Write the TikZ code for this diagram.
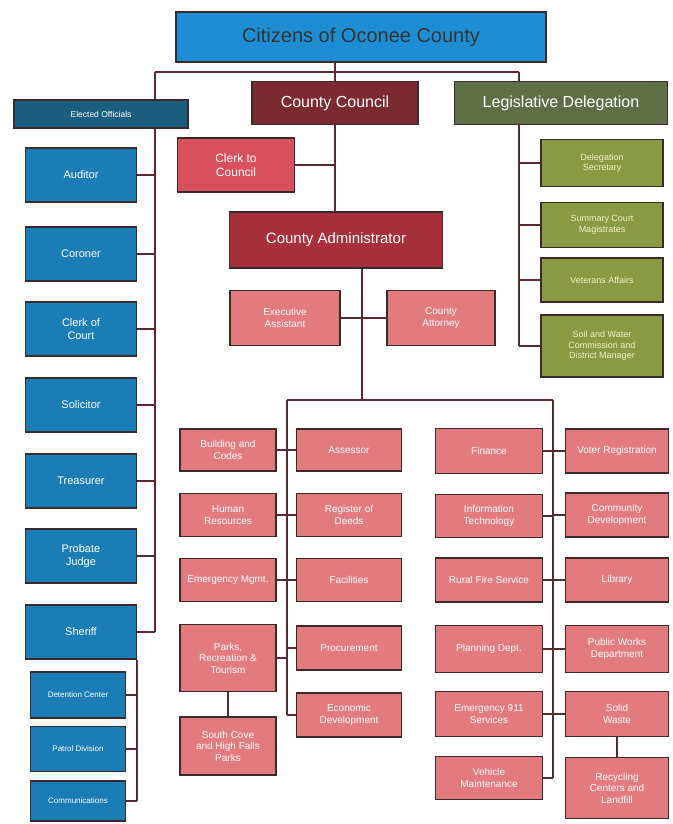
\documentclass[tikz,border=0pt]{standalone}
\usepackage{fontspec}
\setmainfont{Liberation Sans}
\usetikzlibrary{backgrounds}

\definecolor{linecol}{HTML}{5A2A30}
\definecolor{boxline}{HTML}{3A2A2C}
\definecolor{citblue}{HTML}{1E8ED4}
\definecolor{electblue}{HTML}{1B7DB6}
\definecolor{electhead}{HTML}{1B5E80}
\definecolor{councilred}{HTML}{7A2A30}
\definecolor{adminred}{HTML}{A8303A}
\definecolor{clerkred}{HTML}{D8505E}
\definecolor{deptpink}{HTML}{E27A7E}
\definecolor{delegolive}{HTML}{5E6E45}
\definecolor{deleggreen}{HTML}{8A9A42}
\definecolor{delegtext}{HTML}{F4F0C8}

\tikzset{
    conn/.style={draw=linecol, line width=2.2pt},
    box/.style={draw=boxline, line width=1.6pt, text=white, align=center,
        inner sep=2pt, font=\fontsize{10}{11.5}\selectfont},
    elected/.style={box, fill=electblue, minimum width=111pt, minimum height=54pt,
        font=\fontsize{11}{13}\selectfont},
    sheriffunit/.style={box, fill=electblue, minimum width=95pt,
        font=\fontsize{8}{9}\selectfont},
    dept/.style={box, fill=deptpink},
    deleg/.style={box, fill=deleggreen, text=delegtext, minimum width=122pt,
        font=\fontsize{9}{10.5}\selectfont},
}

\begin{document}
\begin{tikzpicture}[x=1pt, y=-1pt]
    \useasboundingbox (0, 0) rectangle (672, 824);

    % Top
    \node[box, fill=citblue, text=black!80, minimum width=370pt, minimum height=50pt,
        font=\fontsize{20}{22}\selectfont] (citizens) at (361, 37) {Citizens of Oconee County};
    \node[box, fill=councilred, minimum width=166pt, minimum height=43pt,
        font=\fontsize{16}{18}\selectfont] (council) at (335, 103) {County Council};
    \node[box, fill=delegolive, minimum width=213pt, minimum height=43pt,
        font=\fontsize{16}{18}\selectfont] (delegation) at (561, 103) {Legislative Delegation};
    \node[box, fill=electhead, minimum width=174pt, minimum height=28pt,
        font=\fontsize{8.5}{10}\selectfont] (elected) at (101, 114) {Elected Officials};
    \node[box, fill=clerkred, minimum width=117pt, minimum height=54pt,
        font=\fontsize{12}{14}\selectfont] (clerk) at (236, 165) {Clerk to\\Council};
    \node[box, fill=adminred, minimum width=213pt, minimum height=56pt,
        font=\fontsize{15}{17}\selectfont] (admin) at (336, 240) {County Administrator};
    \node[dept, minimum width=110pt, minimum height=55pt] (assistant) at (285, 318) {Executive\\Assistant};
    \node[dept, minimum width=108pt, minimum height=55pt] (attorney) at (441, 318) {County\\Attorney};

    % Elected officials
    \node[elected] (auditor) at (81, 175) {Auditor};
    \node[elected] (coroner) at (81, 254) {Coroner};
    \node[elected] (clerkcourt) at (81, 329) {Clerk of\\Court};
    \node[elected] (solicitor) at (81, 405) {Solicitor};
    \node[elected] (treasurer) at (81, 481) {Treasurer};
    \node[elected] (probate) at (81, 556) {Probate\\Judge};
    \node[elected] (sheriff) at (81, 632) {Sheriff};
    \node[sheriffunit, minimum height=46pt] (detention) at (78, 695) {Detention Center};
    \node[sheriffunit, minimum height=45pt] (patrol) at (78, 749) {Patrol Division};
    \node[sheriffunit, minimum height=40pt] (comms) at (78, 801) {Communications};

    % Delegation
    \node[deleg, minimum height=47pt] (secretary) at (602, 163) {Delegation\\Secretary};
    \node[deleg, minimum height=45pt] (magistrates) at (602, 225) {Summary Court\\Magistrates};
    \node[deleg, minimum height=44pt] (veterans) at (602, 280) {Veterans Affairs};
    \node[deleg, minimum height=62pt] (soilwater) at (602, 346) {Soil and Water\\Commission and\\District Manager};

    % Departments, left block
    \node[dept, minimum width=96pt, minimum height=42pt] (building) at (228, 450) {Building and\\Codes};
    \node[dept, minimum width=96pt, minimum height=43pt] (hr) at (228, 515) {Human\\Resources};
    \node[dept, minimum width=96pt, minimum height=43pt] (emergency) at (228, 580) {Emergency Mgmt.};
    \node[dept, minimum width=96pt, minimum height=67pt] (parks) at (228, 658) {Parks,\\Recreation \&\\Tourism};
    \node[dept, minimum width=96pt, minimum height=58pt] (countyparks) at (228, 746) {South Cove\\and High Falls\\Parks};
    \node[dept, minimum width=105pt, minimum height=42pt] (assessor) at (349, 450) {Assessor};
    \node[dept, minimum width=105pt, minimum height=43pt] (deeds) at (349, 515) {Register of\\Deeds};
    \node[dept, minimum width=105pt, minimum height=43pt] (facilities) at (349, 580) {Facilities};
    \node[dept, minimum width=105pt, minimum height=44pt] (procurement) at (349, 648) {Procurement};
    \node[dept, minimum width=105pt, minimum height=44pt] (economic) at (349, 715) {Economic\\Development};

    % Departments, right block
    \node[dept, minimum width=107pt, minimum height=45pt] (finance) at (489, 451) {Finance};
    \node[dept, minimum width=107pt, minimum height=43pt] (it) at (489, 516) {Information\\Technology};
    \node[dept, minimum width=107pt, minimum height=44pt] (fire) at (489, 580) {Rural Fire Service};
    \node[dept, minimum width=107pt, minimum height=47pt] (planning) at (489, 649) {Planning Dept.};
    \node[dept, minimum width=107pt, minimum height=45pt] (e911) at (489, 714) {Emergency 911\\Services};
    \node[dept, minimum width=107pt, minimum height=43pt] (vehicles) at (489, 778) {Vehicle\\Maintenance};
    \node[dept, minimum width=103pt, minimum height=44pt] (voters) at (617, 451) {Voter Registration};
    \node[dept, minimum width=103pt, minimum height=44pt] (community) at (617, 515) {Community\\Development};
    \node[dept, minimum width=103pt, minimum height=44pt] (library) at (617, 580) {Library};
    \node[dept, minimum width=103pt, minimum height=47pt] (publicworks) at (617, 649) {Public Works\\Department};
    \node[dept, minimum width=103pt, minimum height=45pt] (solidwaste) at (617, 714) {Solid\\Waste};
    \node[dept, minimum width=103pt, minimum height=61pt] (recycling) at (617, 788) {Recycling\\Centers and\\Landfill};

    % Connections
    \coordinate (topleft) at (155, 72);
    \coordinate (topright) at (519, 72);
    \coordinate (adminbus) at (362, 400);
    \coordinate (midspine) at (287, 400);
    \coordinate (rightspine) at (553, 400);

    \begin{scope}[on background layer]
        % Top bus
        \draw[conn] (topleft) -- (topright);
        \draw[conn] (citizens.south -| council.north) -- (council.north);
        \draw[conn] (council.south) -- (council.south |- admin.north);
        \draw[conn] (clerk.east) -- (clerk -| council.south);

        % Elected officials
        \draw[conn] (topleft) -- (topleft |- sheriff);
        \foreach \office in {auditor, coroner, clerkcourt, solicitor, treasurer, probate, sheriff}
            \draw[conn] (\office.east) -- (\office -| topleft);
        \draw[conn] (sheriff.south east) -- (sheriff.south east |- comms);
        \foreach \unit in {detention, patrol, comms}
            \draw[conn] (\unit.east) -- (\unit -| sheriff.south east);

        % Delegation
        \draw[conn] (topright) -- (topright |- soilwater);
        \foreach \member in {secretary, magistrates, veterans, soilwater}
            \draw[conn] (\member.west) -- (\member -| topright);

        % Administrator
        \draw[conn] (admin.south -| adminbus) -- (adminbus);
        \draw[conn] (assistant.east) -- (assistant -| adminbus);
        \draw[conn] (attorney.west) -- (attorney -| adminbus);
        \draw[conn] (midspine) -- (rightspine);

        % Left block
        \draw[conn] (midspine) -- (midspine |- economic);
        \foreach \dept in {building, hr, emergency, parks}
            \draw[conn] (\dept.east) -- (\dept -| midspine);
        \foreach \dept in {assessor, deeds, facilities, procurement, economic}
            \draw[conn] (\dept.west) -- (\dept -| midspine);
        \draw[conn] (parks.south) -- (countyparks.north);

        % Right block
        \draw[conn] (rightspine) -- (rightspine |- vehicles);
        \foreach \dept in {finance, it, fire, planning, e911, vehicles}
            \draw[conn] (\dept.east) -- (\dept -| rightspine);
        \foreach \dept in {voters, community, library, publicworks, solidwaste}
            \draw[conn] (\dept.west) -- (\dept -| rightspine);
        \draw[conn] (solidwaste.south) -- (recycling.north);
    \end{scope}
\end{tikzpicture}
\end{document}
